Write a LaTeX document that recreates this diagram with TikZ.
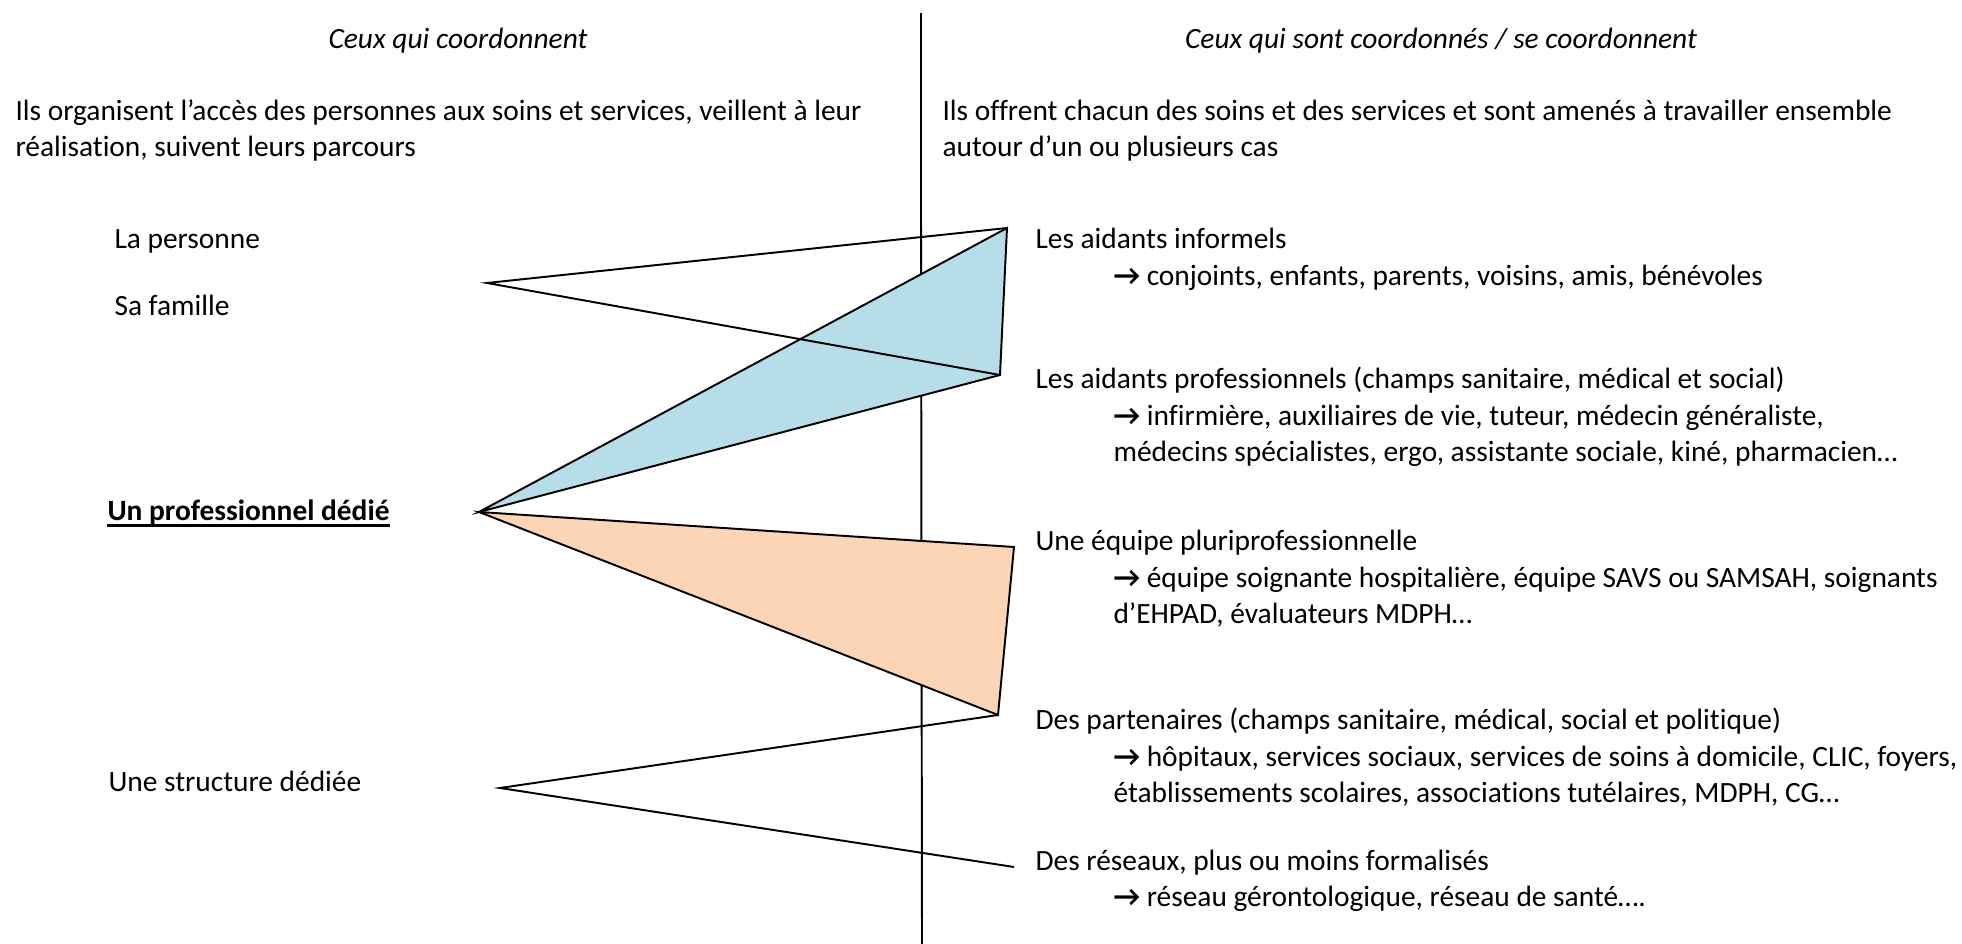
\documentclass[tikz,border=0pt]{standalone}
\usepackage{fontspec}
\setmainfont{Carlito}[Ligatures=NoCommon]
\usepackage{xcolor}

\definecolor{aidBlue}{HTML}{B7DDE8}
\definecolor{aidOrange}{HTML}{FBD5B5}

\newcommand{\fleche}{\textbf{→}}

\tikzset{
  txt/.style={anchor=base west, inner sep=0pt, font=\fontsize{11.35}{13}\selectfont},
  head/.style={anchor=base, inner sep=0pt, font=\fontsize{11.35}{13}\selectfont\itshape},
  edge/.style={line width=0.75pt, line join=miter},
}

\begin{document}
\begin{tikzpicture}[x=0.386pt, y=-0.386pt]
  \useasboundingbox (0,0) rectangle (1962,944);

  % Column headers
  \node[head] (hLeft) at (458,49) {Ceux qui coordonnent};
  \node[head] (hRight) at (1441,49) {Ceux qui sont coordonnés / se coordonnent};

  \node[txt] (introL1) at (15,121) {Ils organisent l’accès des personnes aux soins et services, veillent à leur};
  \node[txt] (introL2) at (15,157) {réalisation, suivent leurs parcours};
  \node[txt] (introR1) at (942,121) {Ils offrent chacun des soins et des services et sont amenés à travailler ensemble};
  \node[txt] (introR2) at (942,157) {autour d’un ou plusieurs cas};

  % Left side: who coordinates
  \node[txt] (personne) at (114,249) {La personne};
  \node[txt] (famille) at (114,316) {Sa famille};
  \node[txt] (pro) at (107,521) {\textbf{Un professionnel dédié}};
  \draw[line width=0.9pt] ([yshift=-1.7pt]pro.base west) -- ([yshift=-1.7pt]pro.base east);
  \node[txt] (structure) at (108,792) {Une structure dédiée};

  % Right side: who is coordinated
  \node[txt] (infA) at (1035,249) {Les aidants informels};
  \node[txt] (infB) at (1113,286) {\fleche{} conjoints, enfants, parents, voisins, amis, bénévoles};
  \node[txt] (proA) at (1035,389) {Les aidants professionnels (champs sanitaire, médical et social)};
  \node[txt] (proB) at (1113,426) {\fleche{} infirmière, auxiliaires de vie, tuteur, médecin généraliste,};
  \node[txt] (proC) at (1113,462) {médecins spécialistes, ergo, assistante sociale, kiné, pharmacien…};
  \node[txt] (eqA) at (1035,551) {Une équipe pluriprofessionnelle};
  \node[txt] (eqB) at (1113,588) {\fleche{} équipe soignante hospitalière, équipe SAVS ou SAMSAH, soignants};
  \node[txt] (eqC) at (1113,624) {d’EHPAD, évaluateurs MDPH…};
  \node[txt] (parA) at (1035,730) {Des partenaires (champs sanitaire, médical, social et politique)};
  \node[txt] (parB) at (1113,767) {\fleche{} hôpitaux, services sociaux, services de soins à domicile, CLIC, foyers,};
  \node[txt] (parC) at (1113,803) {établissements scolaires, associations tutélaires, MDPH, CG…};
  \node[txt] (resA) at (1035,871) {Des réseaux, plus ou moins formalisés};
  \node[txt] (resB) at (1113,907) {\fleche{} réseau gérontologique, réseau de santé….};

  % Corners of the wedges
  \coordinate (apFam) at (487,283);
  \coordinate (apPro) at (479,512);
  \coordinate (apStr) at (500,788);
  \coordinate (cInf) at (1007,228);
  \coordinate (cPro) at (1000,375);
  \coordinate (cEq) at (1014,547);
  \coordinate (cPar) at (998,715);
  \coordinate (cRes) at (1014,867);

  % Dividing line
  \coordinate (vTop) at (921,13);
  \coordinate (vMid) at (921,212);
  \coordinate (vBot) at (922,944);
  \draw[line width=1.1pt] (vTop) -- (vMid);
  \draw[edge] (vMid) -- (vBot);

  % Filled wedges
  \filldraw[edge, fill=aidBlue] (apPro) -- (cInf) -- (cPro) -- cycle;
  \filldraw[edge, fill=aidOrange] (apPro) -- (cEq) -- (cPar) -- cycle;

  % Open wedges
  \draw[edge] (cInf) -- (apFam) -- (cPro);
  \draw[edge] (cPar) -- (apStr) -- (cRes);
\end{tikzpicture}
\end{document}
